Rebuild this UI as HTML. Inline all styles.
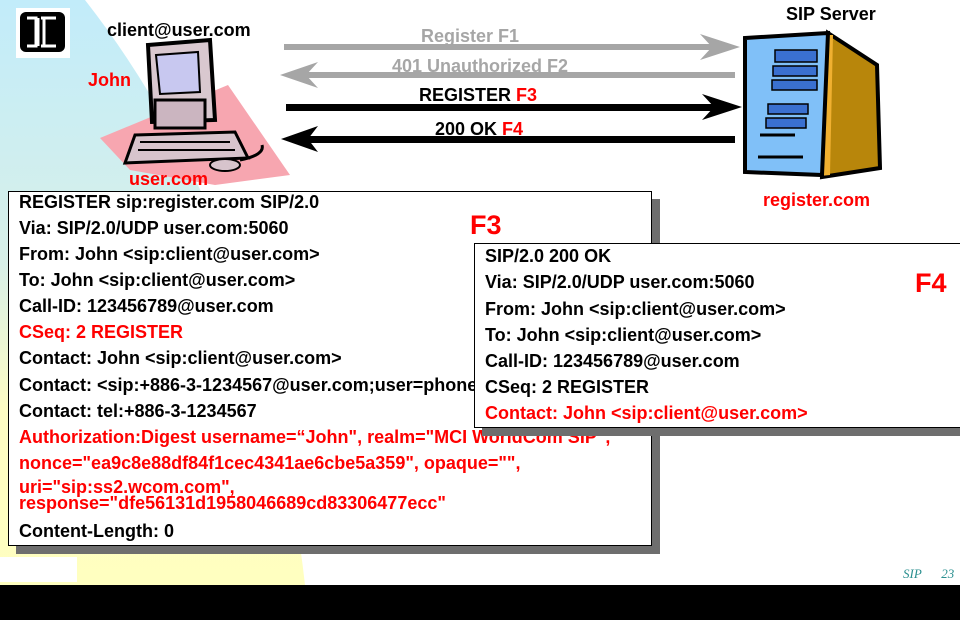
<!DOCTYPE html>
<html><head><meta charset="utf-8"><style>
body{margin:0;width:960px;height:620px;position:relative;overflow:hidden;background:#fff;font-family:"Liberation Sans",Arial,sans-serif;font-weight:bold;}
.t{position:absolute;white-space:nowrap;font-size:18px;line-height:20px;}
.r{color:#f00}
.box{position:absolute;background:#fff;border:1px solid #000;box-shadow:8px 8px 0 #6e6e6e;}
</style></head><body>
<svg width="960" height="620" style="position:absolute;left:0;top:0">
<defs><linearGradient id="g" x1="0" y1="0" x2="0" y2="1">
<stop offset="0" stop-color="#c2ecfa"/><stop offset="0.45" stop-color="#d8f0e8"/><stop offset="0.7" stop-color="#fdfcc4"/><stop offset="1" stop-color="#ffffc0"/></linearGradient></defs>
<path d="M0,0 L85,0 Q265,230 305,585 L0,585 Z" fill="url(#g)"/>
<rect x="0" y="557" width="77" height="25" fill="#fff"/>
<rect x="0" y="585" width="960" height="35" fill="#000"/>
<rect x="16" y="8" width="54" height="50" fill="#fff"/>
<rect x="20" y="12" width="45" height="40" rx="6" fill="#000"/>
<path d="M27,18 h9 v28 h-9 M38,18 v28 M41,18 h15 M41,46 h15 M44,18 v28" stroke="#fff" stroke-width="3" fill="none"/>
<polygon points="100,138 228,85 290,175 215,185 130,170" fill="#f7a6b0"/>
<polygon points="148,45 210,40 215,120 152,122" fill="#d9c8cf" stroke="#000" stroke-width="4"/>
<polygon points="156,55 198,52 200,92 160,94" fill="#c8c8f0" stroke="#000" stroke-width="2"/>
<rect x="155" y="100" width="50" height="28" fill="#cbb5c0" stroke="#000" stroke-width="3"/>
<polygon points="135,135 235,132 248,158 125,163" fill="#d7c4cc" stroke="#000" stroke-width="3"/>
<path d="M140,142 h90 M138,150 h97" stroke="#000" stroke-width="2"/>
<ellipse cx="225" cy="165" rx="15" ry="6" fill="#d7c4cc" stroke="#000" stroke-width="2"/>
<path d="M240,160 q25,-5 22,-15" stroke="#000" stroke-width="3" fill="none"/>
<polygon points="828,33 877,65 880,168 822,177" fill="#b8860b" stroke="#000" stroke-width="4"/>
<polygon points="822,35 833,35 830,175 820,176" fill="#f0b030"/>
<polygon points="745,38 828,33 822,175 745,172" fill="#80c0f8" stroke="#000" stroke-width="4"/>
<g fill="#3a70d0" stroke="#000" stroke-width="1.5"><rect x="775" y="50" width="42" height="12"/><rect x="773" y="66" width="44" height="10"/><rect x="772" y="80" width="45" height="10"/><rect x="768" y="104" width="40" height="10"/><rect x="766" y="118" width="40" height="10"/></g>
<path d="M760,135 h35 M758,157 h45" stroke="#000" stroke-width="3"/>
<g fill="#a6a6a6"><rect x="284" y="44" width="436" height="6"/><polygon points="740,47 700,34 712,47 700,60"/>
<rect x="300" y="72" width="435" height="6"/><polygon points="280,75 318,62 306,75 318,88"/></g>
<g fill="#000"><rect x="286" y="104" width="440" height="7"/><polygon points="742,107 702,94 714,107 702,120"/>
<rect x="300" y="136" width="435" height="7"/><polygon points="281,139 318,126 308,139 318,152"/></g>
</svg>
<div class="t" style="left:107px;top:20px">client@user.com</div>
<div class="t r" style="left:88px;top:70px">John</div>
<div class="t r" style="left:129px;top:169px">user.com</div>
<div class="t" style="left:786px;top:4px">SIP Server</div>
<div class="t r" style="left:763px;top:190px">register.com</div>
<div class="t" style="left:421px;top:26px;color:#a6a6a6">Register F1</div>
<div class="t" style="left:392px;top:56px;color:#a6a6a6">401 Unauthorized F2</div>
<div class="t" style="left:419px;top:85px">REGISTER <span class="r">F3</span></div>
<div class="t" style="left:435px;top:119px">200 OK <span class="r">F4</span></div>

<div class="box" style="left:8px;top:191px;width:642px;height:353px"></div>
<div class="t" style="left:19px;top:192px">REGISTER sip:register.com SIP/2.0</div>
<div class="t" style="left:19px;top:218px">Via: SIP/2.0/UDP user.com:5060</div>
<div class="t" style="left:19px;top:244px">From: John &lt;sip:client@user.com&gt;</div>
<div class="t" style="left:19px;top:270px">To: John &lt;sip:client@user.com&gt;</div>
<div class="t" style="left:19px;top:296px">Call-ID: 123456789@user.com</div>
<div class="t r" style="left:19px;top:322px">CSeq: 2 REGISTER</div>
<div class="t" style="left:19px;top:348px">Contact: John &lt;sip:client@user.com&gt;</div>
<div class="t" style="left:19px;top:375px">Contact: &lt;sip:+886-3-1234567@user.com;user=phone&gt;</div>
<div class="t" style="left:19px;top:401px">Contact: tel:+886-3-1234567</div>
<div class="t r" style="left:19px;top:427px">Authorization:Digest username=“John", realm="MCI WorldCom SIP",</div>
<div class="t r" style="left:19px;top:453px">nonce="ea9c8e88df84f1cec4341ae6cbe5a359", opaque="",</div>
<div class="t r" style="left:19px;top:479px;line-height:16px">uri="sip:ss2.wcom.com",<br>response="dfe56131d1958046689cd83306477ecc"</div>
<div class="t" style="left:19px;top:521px">Content-Length: 0</div>
<div class="t r" style="left:470px;top:210px;font-size:27px;line-height:30px">F3</div>

<div class="box" style="left:474px;top:243px;width:490px;height:183px"></div>
<div class="t" style="left:485px;top:246px">SIP/2.0 200 OK</div>
<div class="t" style="left:485px;top:272px">Via: SIP/2.0/UDP user.com:5060</div>
<div class="t" style="left:485px;top:299px">From: John &lt;sip:client@user.com&gt;</div>
<div class="t" style="left:485px;top:325px">To: John &lt;sip:client@user.com&gt;</div>
<div class="t" style="left:485px;top:351px">Call-ID: 123456789@user.com</div>
<div class="t" style="left:485px;top:377px">CSeq: 2 REGISTER</div>
<div class="t r" style="left:485px;top:403px">Contact: John &lt;sip:client@user.com&gt;</div>
<div class="t r" style="left:915px;top:268px;font-size:27px;line-height:30px">F4</div>

<div style="position:absolute;left:903px;top:566px;font:italic 13px 'Liberation Serif',serif;color:#2a8f8f">SIP&nbsp;&nbsp;&nbsp;&nbsp;&nbsp;&nbsp;23</div>
</body></html>
